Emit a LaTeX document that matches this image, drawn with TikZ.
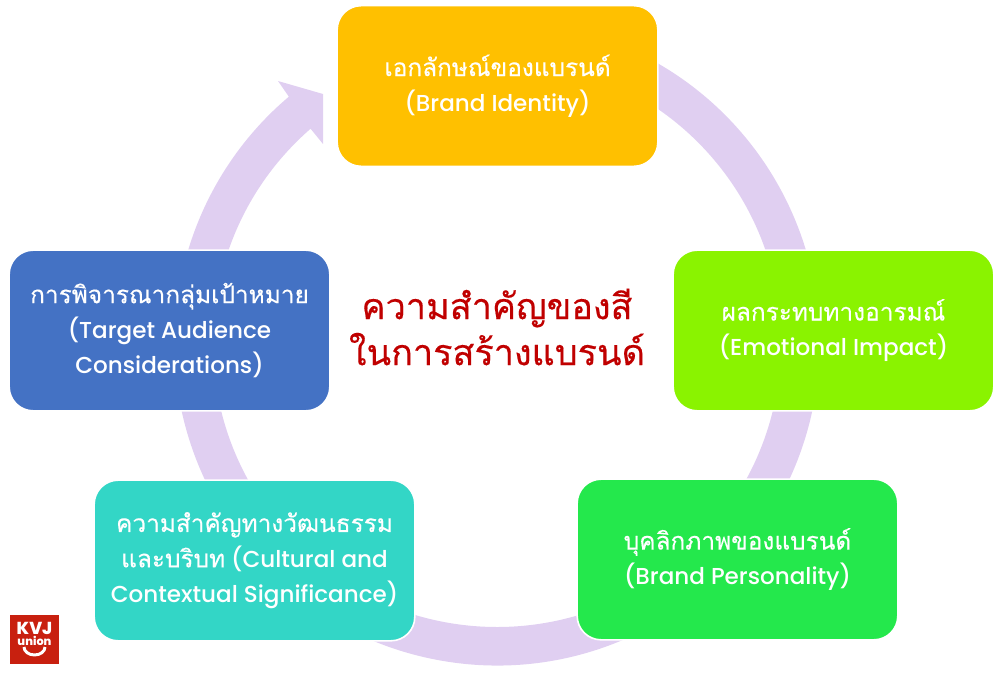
\documentclass[tikz,border=0pt]{standalone}
\usepackage{fontspec}
\setmainfont{Poppins}[UprightFont=* Medium]
\newfontfamily\thaifont[Script=Thai,FakeBold=0.35]{Loma}
\newcommand{\thai}[1]{{\thaifont\fontsize{18.3}{26.5}\selectfont #1}}
\definecolor{ringcol}{HTML}{E0CFF1}
\definecolor{brandcol}{HTML}{FFC000}
\definecolor{emotioncol}{HTML}{8AF300}
\definecolor{personcol}{HTML}{24E84C}
\definecolor{culturecol}{HTML}{33D6C6}
\definecolor{targetcol}{HTML}{4472C4}
\definecolor{titlecol}{HTML}{C00000}
\definecolor{logocol}{HTML}{C8200F}
\tikzset{
  card/.style={draw=white,fill=#1,line width=1.2pt,rounded corners=18pt,minimum width=240.5pt,minimum height=120.5pt,
    align=center,text=white,font=\fontsize{17.3}{26.5}\selectfont,inner sep=0pt}
}

\begin{document}
\begin{tikzpicture}[x=0.75pt,y=0.75pt]
            \useasboundingbox (0,0) rectangle (1000,672);
            \coordinate (ringc) at (497,329);
            \fill[ringcol] (ringc) ++(80:322.5) arc[start angle=80,end angle=-229.8,radius=322.5]
                -- (278,591) -- (323,578) -- (323,528) -- (310,544)
                -- ([shift={(ringc)}]131:284) arc[start angle=-229,end angle=80,radius=284] -- cycle;
            \node[card=brandcol] (brand) at (497.5,586) {\thai{เอกลักษณ์ของแบรนด์}\\(Brand Identity)};
            \node[card=emotioncol] (emotion) at (833.5,341.5) {\thai{ผลกระทบทางอารมณ์}\\(Emotional Impact)};
            \node[card=personcol] (person) at (737.5,112.5) {\thai{บุคลิกภาพของแบรนด์}\\(Brand Personality)};
            \node[card=culturecol] (culture) at (254.5,111.5) {\thai{ความสำคัญทางวัฒนธรรม}\\\thai{และบริบท} (Cultural and\\Contextual Significance)};
            \node[card=targetcol] (target) at (169.5,341.5) {\thai{การพิจารณากลุ่มเป้าหมาย}\\(Target Audience\\Considerations)};
            \node[align=center,text=titlecol,font=\thaifont\fontsize{27}{34.5}\selectfont] (title) at (497,345) {ความสำคัญของสี\\ในการสร้างแบรนด์};
            \node[fill=logocol,minimum size=36.75pt,inner sep=0pt] (logo) at (34.5,32.5) {};
            \node[text=white,font=\bfseries\fontsize{13}{13}\selectfont,inner sep=0pt] (kvj) at (34.5,44) {KVJ};
            \node[text=white,font=\bfseries\fontsize{8.5}{8.5}\selectfont,inner sep=0pt] (union) at (34.5,31) {union};
            \draw[white,line width=2.2pt] (24,25) arc[start angle=180,end angle=360,x radius=10.5,y radius=8];
        \end{tikzpicture}
\end{document}
